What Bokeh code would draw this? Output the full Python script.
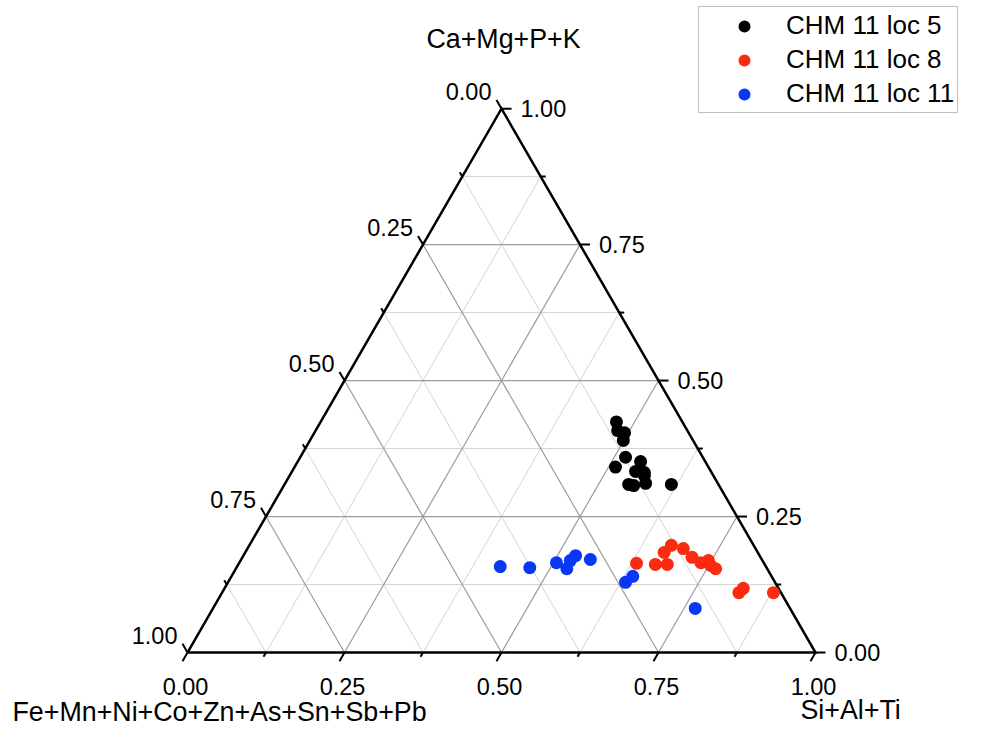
import math
from bokeh.plotting import figure
from bokeh.models import Range1d, Legend, LegendItem, ColumnDataSource
from bokeh.core.properties import value
from bokeh.embed import file_html
from bokeh.resources import INLINE

# ---- data: ternary fractions (Fe+Mn+..., Si+Al+Ti, Ca+Mg+P+K) ----
loc5_fe = [0.105, 0.111, 0.102, 0.111, 0.123, 0.148, 0.103, 0.120, 0.107, 0.110, 0.115, 0.143, 0.136, 0.075]
loc5_si = [0.471, 0.481, 0.494, 0.499, 0.518, 0.511, 0.546, 0.547, 0.562, 0.565, 0.574, 0.548, 0.557, 0.616]
loc5_ca = [0.424, 0.408, 0.404, 0.390, 0.359, 0.341, 0.351, 0.333, 0.331, 0.325, 0.311, 0.309, 0.307, 0.309]

loc8_fe = [0.203, 0.174, 0.155, 0.149, 0.131, 0.115, 0.109, 0.100, 0.086, 0.087, 0.082, 0.067, 0.056, 0.012]
loc8_si = [0.633, 0.664, 0.683, 0.667, 0.672, 0.694, 0.716, 0.735, 0.745, 0.753, 0.764, 0.823, 0.826, 0.878]
loc8_ca = [0.164, 0.162, 0.162, 0.184, 0.197, 0.191, 0.175, 0.165, 0.169, 0.160, 0.154, 0.110, 0.118, 0.110]

loc11_fe = [0.423, 0.377, 0.330, 0.319, 0.306, 0.293, 0.273, 0.238, 0.221, 0.151]
loc11_si = [0.419, 0.467, 0.505, 0.527, 0.525, 0.529, 0.556, 0.633, 0.639, 0.768]
loc11_ca = [0.158, 0.156, 0.165, 0.154, 0.169, 0.178, 0.171, 0.129, 0.140, 0.081]

series_names = ["CHM 11 loc 5", "CHM 11 loc 8", "CHM 11 loc 11"]
series_colors = ["#000000", "#fa2b10", "#0a36f5"]

major_ticks = [0.0, 0.25, 0.5, 0.75, 1.0]
minor_ticks = [0.125, 0.375, 0.625, 0.875]
tick_labels = ["0.00", "0.25", "0.50", "0.75", "1.00"]

title_top = "Ca+Mg+P+K"
title_left = "Fe+Mn+Ni+Co+Zn+As+Sn+Sb+Pb"
title_right = "Si+Al+Ti"

S3 = math.sqrt(3) / 2.0
FONT_NAME = "Liberation Sans"
FONT = value(FONT_NAME)


def to_xy(si, ca):
    xs = [s + c / 2.0 for s, c in zip(si, ca)]
    ys = [c * S3 for c in ca]
    return xs, ys


W, H = 965, 726
PX = 628.0  # pixels per data unit
p = figure(width=W, height=H, output_backend="svg", toolbar_location=None,
           x_axis_type=None, y_axis_type=None, min_border=0,
           x_range=Range1d(-187 / PX, (-187 + W) / PX),
           y_range=Range1d((652 - H) / PX, 652 / PX))
p.outline_line_color = None
p.grid.visible = False
p.background_fill_color = "white"
p.border_fill_color = "white"


def grid_lines(vals):
    xs, ys = [], []
    for t in vals:
        # constant top component (horizontal)
        xs.append([t / 2, 1 - t / 2]); ys.append([t * S3, t * S3])
        # constant right component (parallel to left edge)
        xs.append([t, (1 + t) / 2]); ys.append([0, (1 - t) * S3])
        # constant left component (parallel to right edge)
        xs.append([1 - t, (1 - t) / 2]); ys.append([0, (1 - t) * S3])
    return xs, ys


gx, gy = grid_lines(minor_ticks)
p.multi_line(gx, gy, line_color="#d4d4d4", line_width=1)
gx, gy = grid_lines(major_ticks[1:-1])
p.multi_line(gx, gy, line_color="#9c9c9c", line_width=1.2)

# triangle frame
p.line([0, 1, 0.5, 0], [0, 0, S3, 0], line_color="black", line_width=2.5, line_join="miter")


def ticks(vals, length):
    L = length / PX
    xs, ys = [], []
    for t in vals:
        # bottom axis (Si+Al+Ti) -> down-left
        x0, y0 = t, 0.0
        xs.append([x0, x0 - 0.5 * L]); ys.append([y0, y0 - S3 * L])
        # right axis (Ca+Mg+P+K) -> right
        x0, y0 = 1 - t / 2, t * S3
        xs.append([x0, x0 + L]); ys.append([y0, y0])
        # left axis (Fe+...) -> up-left
        x0, y0 = (1 - t) / 2, (1 - t) * S3
        xs.append([x0, x0 - 0.5 * L]); ys.append([y0, y0 + S3 * L])
    return xs, ys


tx, ty = ticks(major_ticks, 10)
p.multi_line(tx, ty, line_color="black", line_width=2)
tx, ty = ticks(minor_ticks, 5)
p.multi_line(tx, ty, line_color="black", line_width=2)

# tick labels
bx = list(major_ticks); by = [0.0] * 5
p.text(bx, by, text=tick_labels, text_font=FONT, text_font_size=value("23.5px"),
       text_align="center", text_baseline="middle", x_offset=-2, y_offset=34, text_color="black")
rx = [1 - t / 2 for t in major_ticks]; ry = [t * S3 for t in major_ticks]
p.text(rx, ry, text=tick_labels, text_font=FONT, text_font_size=value("23.5px"),
       text_align="left", text_baseline="middle", x_offset=19, y_offset=0, text_color="black")
lx = [(1 - t) / 2 for t in major_ticks]; ly = [(1 - t) * S3 for t in major_ticks]
p.text(lx, ly, text=tick_labels, text_font=FONT, text_font_size=value("23.5px"),
       text_align="right", text_baseline="middle", x_offset=-10, y_offset=-17, text_color="black")

# axis titles
p.text([0.5], [S3], text=[title_top], text_font=FONT, text_font_size=value("26.8px"),
       text_align="center", text_baseline="middle", x_offset=2, y_offset=-70, text_color="black")
p.text([0.0], [0.0], text=[title_left], text_font=FONT, text_font_size=value("26.8px"),
       text_align="left", text_baseline="middle", x_offset=-175, y_offset=59, text_color="black")
p.text([1.0], [0.0], text=[title_right], text_font=FONT, text_font_size=value("26.8px"),
       text_align="left", text_baseline="middle", x_offset=-15, y_offset=57, text_color="black")

# data
renderers = []
for (si, ca, fe), color in zip([(loc5_si, loc5_ca, loc5_fe), (loc8_si, loc8_ca, loc8_fe),
                                (loc11_si, loc11_ca, loc11_fe)], series_colors):
    xs, ys = to_xy(si, ca)
    src = ColumnDataSource(dict(x=xs, y=ys, fe=fe, si=si, ca=ca))
    r = p.scatter("x", "y", source=src, size=13, fill_color=color, line_color=None)
    renderers.append(r)

legend = Legend(items=[LegendItem(label=n, renderers=[r]) for n, r in zip(series_names, renderers)],
                location=(698, 613), padding=3, spacing=3, glyph_width=84, glyph_height=30,
                label_height=30, label_standoff=0, label_text_font=FONT_NAME,
                label_text_font_size="26px", label_text_color="black",
                border_line_color="#808080", border_line_width=1.5,
                background_fill_color="white", background_fill_alpha=1.0, margin=0)
p.add_layout(legend, "center")

open("out.html", "w").write(file_html(p, INLINE))
